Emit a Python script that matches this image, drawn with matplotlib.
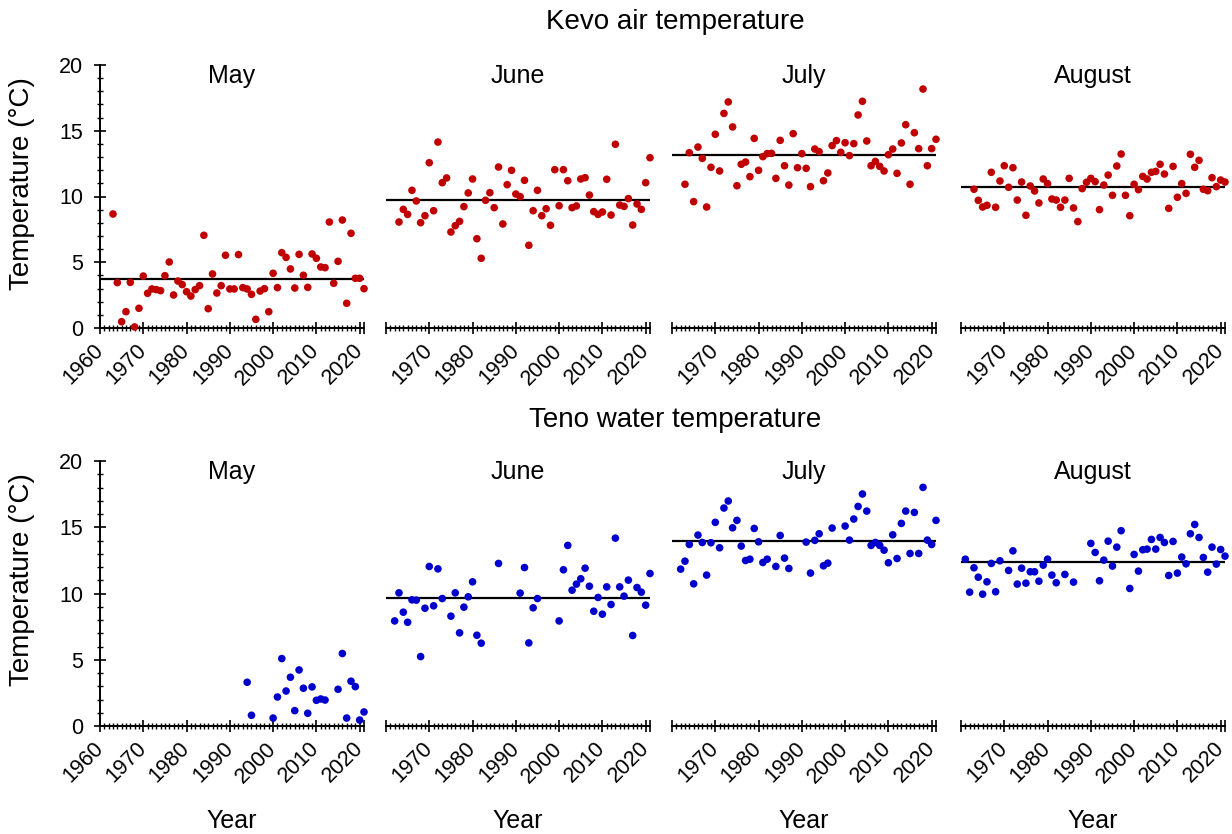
import matplotlib
matplotlib.use('Agg')
import matplotlib.pyplot as plt
from matplotlib.ticker import FixedLocator, MultipleLocator

plt.rcParams['font.family'] = ['Liberation Sans', 'DejaVu Sans']

# ---------------- data ----------------
months = ['May', 'June', 'July', 'August']
row_titles = ['Kevo air temperature', 'Teno water temperature']

air_years = list(range(1963, 2022))
air_may = [8.67, 3.45, 0.48, 1.24, 3.47, 0.08, 1.50, 3.95, 2.64, 2.97, 2.92, 2.84, 3.98, 5.02,
           2.51, 3.57, 3.30, 2.76, 2.43, 2.92, 3.22, 7.05, 1.47, 4.11, 2.66, 3.22, 5.53, 2.97,
           2.97, 5.58, 3.07, 2.97, 2.56, 0.66, 2.81, 2.99, 1.24, 4.16, 3.07, 5.73, 5.37, 4.49,
           3.04, 5.60, 4.01, 3.09, 5.63, 5.30, 4.64, 4.59, 8.06, 3.40, 5.07, 8.21, 1.88, 7.20,
           3.78, 3.78, 2.99]
air_jun = [8.06, 9.02, 8.64, 10.47, 9.66, 8.01, 8.54, 12.57, 8.92, 14.14, 11.05, 11.41, 7.30,
           7.78, 8.11, 9.23, 10.27, 11.33, 6.79, 5.30, 9.71, 10.29, 9.15, 12.24, 7.91, 10.90,
           11.99, 10.19, 9.99, 11.23, 6.29, 8.92, 10.47, 8.54, 9.07, 7.81, 12.04, 9.30, 12.04,
           11.20, 9.15, 9.28, 11.33, 11.43, 10.11, 8.85, 8.64, 8.82, 11.31, 8.59, 13.97, 9.35,
           9.25, 9.84, 7.83, 9.43, 9.02, 11.05, 12.95]
air_jul = [10.93, 13.33, 9.61, 13.76, 12.90, 9.20, 12.22, 14.73, 11.94, 16.32, 17.19, 15.29,
           10.82, 12.45, 12.62, 11.51, 14.42, 11.99, 13.03, 13.26, 13.28, 11.38, 14.27, 12.34,
           10.87, 14.78, 12.19, 13.26, 12.14, 10.75, 13.61, 13.41, 11.20, 11.79, 13.87, 14.25,
           13.36, 14.09, 13.11, 14.02, 16.20, 17.24, 14.22, 12.34, 12.67, 12.29, 11.94, 13.18,
           13.61, 11.76, 14.07, 15.46, 10.93, 14.85, 13.64, 18.17, 12.34, 13.64, 14.35]
air_aug = [10.55, 9.71, 9.20, 9.33, 11.84, 9.18, 11.18, 12.34, 10.70, 12.19, 9.73, 11.10, 8.57,
           10.80, 10.42, 9.51, 11.33, 10.98, 9.81, 9.73, 9.18, 9.73, 11.38, 9.13, 8.09, 10.60,
           11.08, 11.38, 11.13, 9.00, 10.87, 11.63, 10.09, 12.32, 13.23, 10.09, 8.54, 10.93,
           10.52, 11.53, 11.33, 11.84, 11.91, 12.45, 11.71, 9.10, 12.29, 9.94, 10.98, 10.24,
           13.21, 12.22, 12.75, 10.55, 10.44, 11.43, 10.75, 11.25, 11.10]
air_means = [3.70, 9.73, 13.18, 10.75]

water_may_years = [1994, 1995] + list(range(2000, 2013)) + list(range(2015, 2022))
water_may = [3.30, 0.81, 0.60, 2.19, 5.09, 2.64, 3.68, 1.16, 4.23, 2.85, 0.96, 2.95, 1.94,
             2.04, 1.96, 2.77, 5.47, 0.60, 3.38, 2.97, 0.45, 1.06]
water_jun_years = (list(range(1962, 1974)) + list(range(1975, 1983)) + [1986]
                   + list(range(1991, 1996)) + list(range(2000, 2022)))
water_jun = [7.93, 10.05, 8.59, 7.83, 9.52, 9.50, 5.24, 8.89, 12.04, 9.07, 11.86, 9.62,
             8.29, 10.05, 7.03, 8.97, 9.75, 10.88, 6.85, 6.25,
             12.27,
             10.03, 11.96, 6.27, 8.92, 9.62,
             7.93, 11.79, 13.63, 10.25, 10.71, 11.11, 11.91, 10.55, 8.66, 9.70, 8.44, 10.50,
             9.17, 14.18, 10.50, 9.80, 11.01, 6.83, 10.45, 10.10, 9.12, 11.51]
water_jul_years = (list(range(1962, 1983)) + list(range(1984, 1988))
                   + list(range(1991, 1998)) + list(range(2000, 2022)))
water_jul = [11.84, 12.44, 13.70, 10.73, 14.41, 13.85, 11.39, 13.83, 15.37, 13.45, 16.45,
             16.98, 14.96, 15.52, 13.58, 12.49, 12.59, 14.91, 13.90, 12.34, 12.59,
             12.04, 14.38, 12.67, 11.89,
             13.88, 11.54, 14.01, 14.51, 12.09, 12.29, 14.94,
             15.09, 14.03, 15.62, 16.57, 17.51, 16.22, 13.63, 13.85, 13.63, 13.27, 12.32,
             14.43, 12.64, 15.29, 16.22, 13.02, 16.12, 13.02, 18.01, 14.03, 13.70, 15.52]
water_aug_years = (list(range(1961, 1970)) + list(range(1971, 1983)) + [1984, 1986]
                   + list(range(1990, 1998)) + list(range(1999, 2022)))
water_aug = [12.59, 10.10, 11.94, 11.23, 9.95, 10.88, 12.27, 10.13, 12.47,
             11.74, 13.22, 10.71, 11.91, 10.78, 11.64, 11.64, 10.93, 12.14, 12.59, 11.39, 10.81,
             11.44, 10.86,
             13.78, 13.10, 10.96, 12.52, 13.95, 12.07, 13.50, 14.74,
             10.38, 12.95, 11.69, 13.30, 13.35, 14.08, 13.35, 14.23, 13.85, 11.36, 13.93,
             11.54, 12.75, 12.24, 14.51, 15.21, 14.23, 12.72, 11.61, 13.50, 12.22, 13.32, 12.82]
water_means = [None, 9.65, 13.98, 12.34]

major_years = [1960, 1970, 1980, 1990, 2000, 2010, 2020, 2021]
y_ticks = [0, 5, 10, 15, 20]

rows = [
    dict(years=[air_years] * 4, vals=[air_may, air_jun, air_jul, air_aug], means=air_means,
         color='#C00000', top=65, bottom=328, title_y=22, ylab_y=184, xlabel=False),
    dict(years=[water_may_years, water_jun_years, water_jul_years, water_aug_years],
         vals=[water_may, water_jun, water_jul, water_aug], means=water_means,
         color='#0000CC', top=461, bottom=726, title_y=420, ylab_y=580, xlabel=True),
]

# ---------------- figure ----------------
W, H = 1232, 834
fig = plt.figure(figsize=(W / 100, H / 100), dpi=100)
lefts = [100, 386, 672, 961]
wpx = 264

for r, row in enumerate(rows):
    fig.text(675 / W, 1 - row['title_y'] / H, row_titles[r], ha='center', va='center', fontsize=20)
    fig.text(22 / W, 1 - row['ylab_y'] / H, 'Temperature (°C)', rotation=90,
             ha='center', va='center', fontsize=20)
    for c in range(4):
        ax = fig.add_axes([lefts[c] / W, 1 - row['bottom'] / H, wpx / W,
                           (row['bottom'] - row['top']) / H])
        ax.set_xlim(1960, 2021)
        ax.set_ylim(0, 20)
        ax.scatter(row['years'][c], row['vals'][c], s=30, color=row['color'],
                   edgecolors='none', zorder=3, clip_on=False)
        m = row['means'][c]
        if m is not None:
            ax.hlines(m, 1960, 2021, color='black', lw=1.6, zorder=2)
        for s in ['top', 'right']:
            ax.spines[s].set_visible(False)
        ax.spines['bottom'].set_linewidth(1.4)
        ax.spines['left'].set_linewidth(1.4)
        ax.xaxis.set_major_locator(FixedLocator(major_years))
        ax.xaxis.set_minor_locator(MultipleLocator(1))
        labels = [str(y) if y != 2021 else '' for y in major_years]
        if c > 0:
            labels[0] = ''
        ax.set_xticklabels(labels)
        ax.tick_params(axis='x', which='major', direction='inout', length=8, width=1.2,
                       labelsize=15.5, pad=10)
        ax.tick_params(axis='x', which='minor', direction='inout', length=4.5, width=1.0)
        if c == 0:
            ax.yaxis.set_major_locator(FixedLocator(y_ticks))
            ax.yaxis.set_minor_locator(MultipleLocator(1))
            ax.tick_params(axis='y', which='major', direction='inout', length=8, width=1.2,
                           labelsize=15.5, pad=8)
            ax.tick_params(axis='y', which='minor', direction='inout', length=4.5, width=1.0)
        else:
            ax.spines['left'].set_visible(False)
            ax.tick_params(axis='y', which='both', left=False, labelleft=False)
        for lbl in ax.get_xticklabels():
            lbl.set_rotation(45)
            lbl.set_ha('right')
            lbl.set_va('center')
            lbl.set_rotation_mode('anchor')
        ax.text(0.5, 0.932, months[c], transform=ax.transAxes, ha='center', va='baseline',
                fontsize=18)
        if row['xlabel']:
            fig.text((lefts[c] + wpx / 2) / W, 1 - 821 / H, 'Year', ha='center', va='center',
                     fontsize=18)
        ax.patch.set_alpha(0)

fig.savefig('out.png', dpi=100)
